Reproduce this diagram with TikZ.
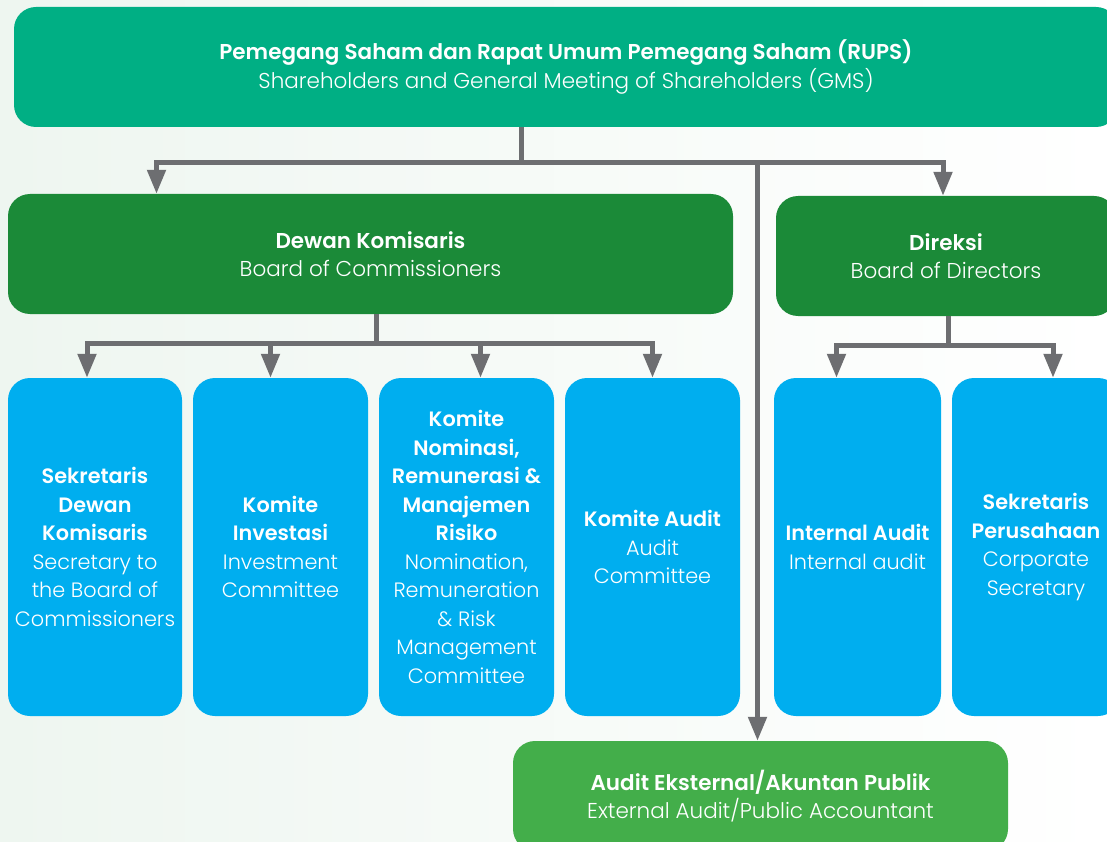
\documentclass[tikz,border=0pt]{standalone}
\usepackage{fontspec}
\setmainfont{Poppins}[UprightFont=* Light,BoldFont=* SemiBold]
\usepackage{xcolor}
\definecolor{cTop}{HTML}{00AF84}
\definecolor{cBoard}{HTML}{1B8A38}
\definecolor{cUnit}{HTML}{00AEEF}
\definecolor{cExt}{HTML}{43AE4A}
\definecolor{cLine}{HTML}{6D6E71}
\definecolor{cBack}{HTML}{EEF6F0}
\usetikzlibrary{arrows.meta,calc}
\tikzset{
  node-box/.style={rounded corners=22pt,text=white,align=center,inner sep=0pt,
    font=\fontsize{21.5}{28.5}\selectfont},
  node-top/.style={node-box,fill=cTop,minimum height=120pt},
  node-board/.style={node-box,fill=cBoard,minimum height=120pt},
  node-unit/.style={node-box,fill=cUnit,minimum height=338pt,
    font=\fontsize{20.8}{28.5}\selectfont},
  node-ext/.style={node-box,fill=cExt,minimum height=110pt},
  link/.style={line width=5pt,draw=cLine},
  arrow/.style={-{Triangle[length=24pt,width=18pt]},line width=5pt,draw=cLine},
}

\begin{document}
\begin{tikzpicture}[x=1pt,y=-1pt]
  \useasboundingbox (0,0) rectangle (1107,842);
  \clip (0,0) rectangle (1107,842);
  \fill[left color=cBack,right color=white] (0,0) rectangle (1107,842);
  % boxes
  \node[node-top,minimum width=1104pt] (rups) at (566,67)
    {\textbf{Pemegang Saham dan Rapat Umum Pemegang Saham (RUPS)}\\Shareholders and General Meeting of Shareholders (GMS)};
  \node[node-board,minimum width=725pt] (dekom) at (370.5,254)
    {\textbf{Dewan Komisaris}\\Board of Commissioners};
  \node[node-board,minimum width=340pt] (direksi) at (946,256)
    {\textbf{Direksi}\\Board of Directors};
  \node[node-unit,minimum width=174pt] (seskom) at (95,547)
    {\textbf{Sekretaris}\\\textbf{Dewan}\\\textbf{Komisaris}\\Secretary to\\the Board of\\Commissioners};
  \node[node-unit,minimum width=175pt] (kominv) at (280.5,547)
    {\textbf{Komite}\\\textbf{Investasi}\\Investment\\Committee};
  \node[node-unit,minimum width=175pt] (komnrm) at (466.5,547)
    {\textbf{Komite}\\\textbf{Nominasi,}\\\textbf{Remunerasi \&}\\\textbf{Manajemen}\\\textbf{Risiko}\\Nomination,\\Remuneration\\\& Risk\\Management\\Committee};
  \node[node-unit,minimum width=175pt] (komaud) at (652.5,547)
    {\textbf{Komite Audit}\\Audit\\Committee};
  \node[node-unit,minimum width=167pt] (intaud) at (857.5,547)
    {\textbf{Internal Audit}\\Internal audit};
  \node[node-unit,minimum width=168pt] (sekper) at (1036,547)
    {\textbf{Sekretaris}\\\textbf{Perusahaan}\\Corporate\\Secretary};
  \node[node-ext,minimum width=495pt] (extaud) at (760.5,796)
    {\textbf{Audit Eksternal/Akuntan Publik}\\External Audit/Public Accountant};
  % connectors
  \coordinate (busA) at (521,163);
  \coordinate (busB) at (376,343);
  \coordinate (busC) at (948,345);
  \draw[link] (rups.south -| busA) -- (busA);
  \draw[arrow] (busA) -| ([xshift=-214pt]dekom.north);
  \draw[arrow] (busA) -| ([xshift=-3pt]direksi.north);
  \draw[arrow] (busA -| extaud.north) ++(-3,0) -- ([xshift=-3pt]extaud.north);
  \draw[link] (dekom.south -| busB) -- (busB);
  \draw[arrow] (busB) -| ([xshift=-8pt]seskom.north);
  \draw[arrow] (busB) -| ([xshift=-10pt]kominv.north);
  \draw[arrow] (busB) -| ([xshift=14pt]komnrm.north);
  \draw[arrow] (busB) -| (komaud.north);
  \draw[link] (direksi.south -| busC) -- (busC);
  \draw[arrow] (busC) -| ([xshift=-21pt]intaud.north);
  \draw[arrow] (busC) -| ([xshift=17pt]sekper.north);
\end{tikzpicture}
\end{document}
